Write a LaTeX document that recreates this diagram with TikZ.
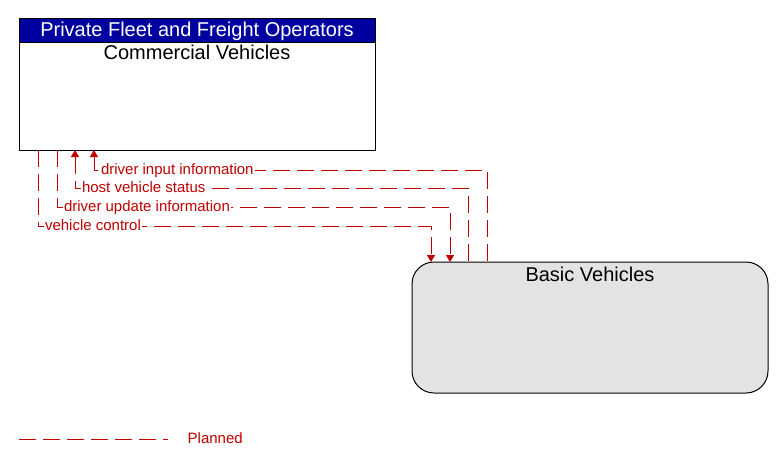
\documentclass[tikz,border=0pt]{standalone}
\usepackage{fontspec}
\setmainfont{Liberation Sans}
\usetikzlibrary{arrows.meta}
\definecolor{plancol}{RGB}{192,0,0}
\definecolor{headcol}{RGB}{0,0,160}
\definecolor{bvfill}{RGB}{227,227,227}

\begin{document}
\begin{tikzpicture}[x=1pt,y=-1pt,>={Triangle[length=7pt,width=8pt]},
  flow/.style={plancol,line width=1pt,dash pattern=on 17pt off 7pt},
  lbl/.style={anchor=west,xshift=5.5pt,fill=white,inner sep=1pt,text=plancol,
    font=\fontsize{15}{18}\selectfont,text height=11pt,text depth=3pt},
  box/.style={draw,line width=1pt,outer sep=0pt,minimum width=356pt,minimum height=131pt},
  head/.style={draw,line width=1pt,fill=headcol,text=white,outer sep=0pt,
    minimum width=356pt,minimum height=23pt,font=\fontsize{20}{24}\selectfont,
    text height=14.5pt,text depth=2pt},
  title/.style={anchor=base,inner sep=0pt,font=\fontsize{20}{24}\selectfont}]
\useasboundingbox (0,0) rectangle (783,468);
\node[box,anchor=north west] (cv) at (19,19) {};
\node[head,anchor=north west] (cvhead) at (cv.north west) {Private Fleet and Freight Operators};
\node[title] (cvname) at (197,60) {Commercial Vehicles};
\node[box,anchor=north west,fill=bvfill,rounded corners=22pt] (bv) at (412,262) {};
\node[title] (bvname) at (590,281) {Basic Vehicles};
\draw[flow,<-] ([xshift=75pt]cv.south west) -- ++(0,20) node[lbl]{driver input information} -| ([xshift=75pt]bv.north west);
\draw[flow,<-] ([xshift=56pt]cv.south west) -- ++(0,38) node[lbl]{host vehicle status} -| ([xshift=56pt]bv.north west);
\draw[flow,->] ([xshift=38pt]cv.south west) -- ++(0,57) node[lbl]{driver update information} -| ([xshift=38pt]bv.north west);
\draw[flow,->] ([xshift=19pt]cv.south west) -- ++(0,76) node[lbl]{vehicle control} -| ([xshift=19pt]bv.north west);
\coordinate (lgstart) at (19,439);
\coordinate (lgend) at (168,439);
\draw[flow] (lgstart) -- (lgend);
\node[lbl] (lgtext) at (181,439) {Planned};
\end{tikzpicture}
\end{document}
